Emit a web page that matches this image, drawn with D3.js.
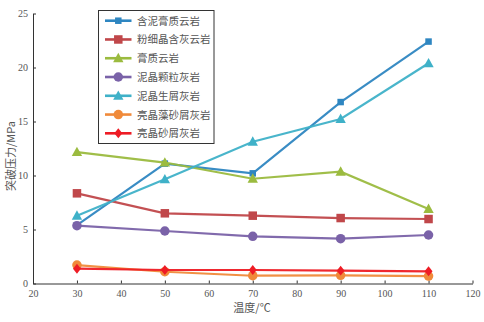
<!DOCTYPE html>
<html><head><meta charset="utf-8">
<script src="https://cdn.jsdelivr.net/npm/d3@7"></script>
<style>body{margin:0;background:#fff}</style>
</head><body><svg id="c" width="484" height="322"></svg>
<script>
const temps = [30, 50, 70, 90, 110];
const seriesNames = ["含泥膏质云岩","粉细晶含灰云岩","膏质云岩","泥晶颗粒灰岩","泥晶生屑灰岩","亮晶藻砂屑灰岩","亮晶砂屑灰岩"];
const s1 = [5.4, 11.1, 10.2, 16.8, 22.4];
const s2 = [8.35, 6.5, 6.28, 6.06, 5.97];
const s3 = [12.17, 11.2, 9.7, 10.35, 6.9];
const s4 = [5.35, 4.86, 4.37, 4.15, 4.49];
const s5 = [6.28, 9.65, 13.13, 15.23, 20.39];
const s6 = [1.71, 1.09, 0.72, 0.76, 0.69];
const s7 = [1.37, 1.25, 1.25, 1.19, 1.13];
const seriesValues = [s1, s2, s3, s4, s5, s6, s7];
const colors = ["#2e86c1","#c0474a","#9bbb3f","#7a62a8","#3fb1c8","#f08a3a","#ee1c25"];
const markers = ["square","square","triangle","circle","triangle","circle","diamond"];
const xTicks = [20,30,40,50,60,70,80,90,100,110,120];
const yTicks = [0,5,10,15,20,25];

const svg = d3.select("#c");
const x = d3.scaleLinear().domain([20,120]).range([33,472.5]);
const y = d3.scaleLinear().domain([0,25]).range([283.5,13.5]);
const tickFont = "'Liberation Serif','Times New Roman',serif";
const cjkFont = "'Noto Sans CJK SC',sans-serif";

const xa = svg.append("g").attr("transform","translate(0,283.5)")
  .call(d3.axisBottom(x).tickValues(xTicks).tickSizeInner(-3).tickSizeOuter(0).tickPadding(6));
const ya = svg.append("g").attr("transform","translate(33,0)")
  .call(d3.axisLeft(y).tickValues(yTicks).tickSizeInner(-3).tickSizeOuter(0).tickPadding(5));
[xa, ya].forEach(a => {
  a.select(".domain").attr("stroke","#333").attr("stroke-width",1);
  a.selectAll(".tick line").attr("stroke","#333");
  a.selectAll("text").attr("font-family",tickFont).attr("font-size",10).attr("fill","#555");
});

svg.append("text").attr("x",252).attr("y",312).attr("text-anchor","middle")
  .attr("font-family",cjkFont).attr("font-size",11).attr("fill","#555").text("温度/℃");
svg.append("text").attr("transform","translate(15,156) rotate(-90)").attr("text-anchor","middle")
  .attr("font-family",cjkFont).attr("font-size",11).attr("fill","#555").text("突破压力/MPa");

function drawMarker(g, type, cx, cy, color, s) {
  if (type === "square") {
    g.append("rect").attr("x",cx-s/2).attr("y",cy-s/2).attr("width",s).attr("height",s).attr("fill",color);
  } else if (type === "circle") {
    g.append("circle").attr("cx",cx).attr("cy",cy).attr("r",s/2).attr("fill",color);
  } else if (type === "triangle") {
    const h = s*1.0, w = s*1.15;
    g.append("path").attr("d",`M${cx},${cy-h*0.6}L${cx+w/2},${cy+h*0.45}L${cx-w/2},${cy+h*0.45}Z`).attr("fill",color);
  } else if (type === "diamond") {
    const r = s*0.62;
    g.append("path").attr("d",`M${cx},${cy-r}L${cx+r*0.8},${cy}L${cx},${cy+r}L${cx-r*0.8},${cy}Z`).attr("fill",color);
  }
}
const msize = [6.5,8.5,9,9.5,9,9.5,8];

const line = d3.line().x((d,i)=>x(temps[i])).y(d=>y(d));
seriesValues.forEach((vals, k) => {
  const g = svg.append("g");
  g.append("path").datum(vals).attr("d",line).attr("fill","none")
    .attr("stroke",colors[k]).attr("stroke-width",2.2).attr("stroke-opacity",0.95);
  vals.forEach((v,i)=>drawMarker(g, markers[k], x(temps[i]), y(v), colors[k], msize[k]));
});

// legend
const lg = svg.append("g");
lg.append("rect").attr("x",98.5).attr("y",10.5).attr("width",115.5).attr("height",133)
  .attr("fill","#fff").attr("stroke","#333").attr("stroke-width",1);
seriesNames.forEach((n,k)=>{
  const yy = 20.7 + k*18.77;
  lg.append("line").attr("x1",105).attr("x2",131.5).attr("y1",yy).attr("y2",yy)
    .attr("stroke",colors[k]).attr("stroke-width",2.6);
  drawMarker(lg, markers[k], 118.3, yy, colors[k], msize[k]);
  lg.append("text").attr("x",137).attr("y",yy+4).attr("font-family",cjkFont)
    .attr("font-size",10.5).attr("fill","#555").text(n);
});
</script></body></html>
